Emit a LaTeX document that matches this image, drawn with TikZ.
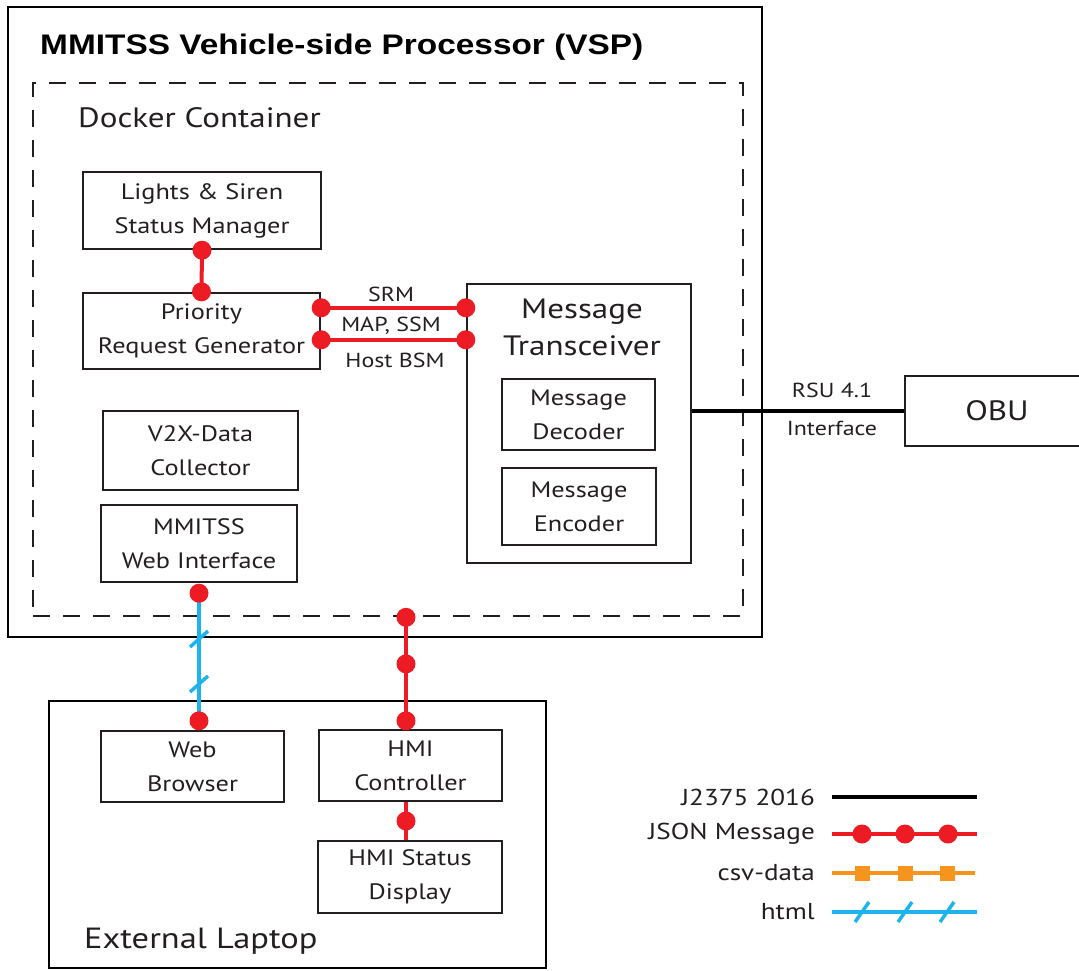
\documentclass[tikz,border=0pt]{standalone}
\usepackage{fontspec}
\setmainfont{PT Sans}[FakeStretch=1.18]
\newfontfamily\titlefont{Liberation Sans}[FakeStretch=1.18]
\usetikzlibrary{calc}
\definecolor{jred}{HTML}{ED1C24}
\definecolor{jblue}{HTML}{1DB4EC}
\definecolor{jorange}{HTML}{F7941D}
\definecolor{tgray}{HTML}{231F20}
\begin{document}
\begin{tikzpicture}[x=1pt,y=-1pt,
  box/.style={draw=tgray,line width=2.4pt,rectangle,inner sep=0pt,align=center,
    font=\fontsize{22.3}{34}\selectfont,text=tgray},
  json/.style={draw=jred,line width=4pt},
  htmll/.style={draw=jblue,line width=4pt},
  csvl/.style={draw=jorange,line width=4pt},
  stdl/.style={draw=black,line width=4pt},
  lbl/.style={font=\fontsize{20.3}{22}\selectfont,text=tgray,inner sep=0pt},
  leg/.style={font=\fontsize{23}{26}\selectfont,text=tgray,inner sep=0pt,anchor=east},
  big/.style={font=\fontsize{28}{37}\selectfont,text=tgray,inner sep=0pt}]
\useasboundingbox (0,0) rectangle (1079,970);
% containers
\node[draw=black,line width=2.4pt,minimum width=754,minimum height=630,inner sep=0] (vsp) at (385,322) {};
\node[draw=tgray,line width=2.6pt,dash pattern=on 17pt off 13pt,minimum width=710,minimum height=533,inner sep=0] (docker) at (388,349.5) {};
\node[anchor=west,font=\titlefont\bfseries\fontsize{28.3}{30}\selectfont,inner sep=0] (title) at (40,47) {MMITSS Vehicle-side Processor (VSP)};
\node[big,anchor=west] (dlabel) at (78,118) {Docker Container};
% boxes
\node[box,minimum width=238,minimum height=77] (lights) at (202,210.5) {Lights \& Siren\\Status Manager};
\node[box,minimum width=237,minimum height=76] (prg) at (201.5,331) {Priority\\Request Generator};
\node[box,minimum width=224,minimum height=279,anchor=north] (mt) at (579,283) {};
\node[big,align=center] (mtlabel) at (582,327.5) {Message\\Transceiver};
\node[box,minimum width=153,minimum height=71] (dec) at (578.5,414.5) {Message\\Decoder};
\node[box,minimum width=154,minimum height=77] (enc) at (579,506.5) {Message\\Encoder};
\node[box,minimum width=195,minimum height=79] (v2x) at (200.5,450.5) {V2X-Data\\Collector};
\node[box,minimum width=196,minimum height=77] (web) at (199,543.5) {MMITSS\\Web Interface};
\node[box,minimum width=185,minimum height=70] (obu) at (997.5,411) {};
\node[big] (obulabel) at (997,411) {OBU};
% laptop
\node[draw=black,line width=2.4pt,minimum width=497,minimum height=267,inner sep=0] (laptop) at (297.5,834.5) {};
\node[big,anchor=west,font=\fontsize{29.2}{37}\selectfont] (llabel) at (84,941) {External Laptop};
\node[box,minimum width=183,minimum height=71] (browser) at (192.5,766.5) {Web\\Browser};
\node[box,minimum width=183,minimum height=71] (hmic) at (410.5,765.5) {HMI\\Controller};
\node[box,minimum width=184,minimum height=72] (hmis) at (410,877) {HMI Status\\Display};
% lights -> prg
\draw[json] (lights.south) -- (prg.north);
\fill[jred] (lights.south) circle (9.5);
\fill[jred] (prg.north) circle (9.5);
% SRM / MAP lines
\coordinate (s1) at ([yshift=-16]prg.north east);
\coordinate (s2) at ([yshift=-48]prg.north east);
\draw[json] (s1) -- (s1 -| mt.west) coordinate (t1);
\draw[json] (s2) -- (s2 -| mt.west) coordinate (t2);
\foreach \p in {s1,s2,t1,t2} \fill[jred] (\p) circle (9.5);
\node[lbl] (srm) at (391,294) {SRM};
\node[lbl] (mapssm) at (391,326) {MAP, SSM};
\node[lbl] (hbsm) at (395,360) {Host BSM};
% RSU interface
\draw[stdl] (obu.west -| mt.east) -- (obu.west);
\node[lbl] (rsu) at (832,390) {RSU 4.1};
\node[lbl] (iface) at (832,428) {Interface};
% html line
\coordinate (h0) at ([yshift=-10]web.south);
\coordinate (h3) at (h0 |- browser.north);
\coordinate (h4) at ([yshift=9]h3);
\draw[htmll] (h0) -- (h4);
\foreach \yy in {639,684} \draw[htmll,line width=3.5pt] ($(h0 |- 0,\yy)+(-9,8)$) -- ($(h0 |- 0,\yy)+(9,-8)$);
\fill[jred] (h0) circle (9.5);
\fill[jred] (h4) circle (9.5);
% HMI line
\coordinate (m2) at ([xshift=-4.5,yshift=8]hmic.north);
\coordinate (m0) at (m2 |- docker.south);
\draw[json] (m0) -- (m2);
\fill[jred] (m0) circle (9.5);
\fill[jred] ($(m0)!0.45!(m2)$) circle (9.5);
\fill[jred] (m2) circle (9.5);
\coordinate (n0) at ([xshift=-4.5]hmic.south);
\coordinate (n1) at (n0 |- hmis.north);
\draw[json] (n0) -- (n1);
\fill[jred] ($(n0)!0.5!(n1)$) circle (9.5);
% legend
\node[leg] (lg1) at (815,797) {J2375 2016};
\node[leg] (lg2) at (815,834) {JSON Message};
\node[leg] (lg3) at (815,873) {csv-data};
\node[leg] (lg4) at (815,912) {html};
\draw[stdl] (832,797) -- (977,797);
\draw[json] (832,834) -- (977,834);
\foreach \xx in {862,905,948} \fill[jred] (\xx,834) circle (9.5);
\draw[csvl] (832,873) -- (975,873);
\foreach \xx in {862,905,947} \fill[jorange] (\xx-7.5,873-7.5) rectangle (\xx+7.5,873+7.5);
\draw[htmll] (832,912) -- (977,912);
\foreach \xx in {862,905,947} \draw[htmll,line width=3.5pt] (\xx-7,922) -- (\xx+7,902);
\end{tikzpicture}
\end{document}
